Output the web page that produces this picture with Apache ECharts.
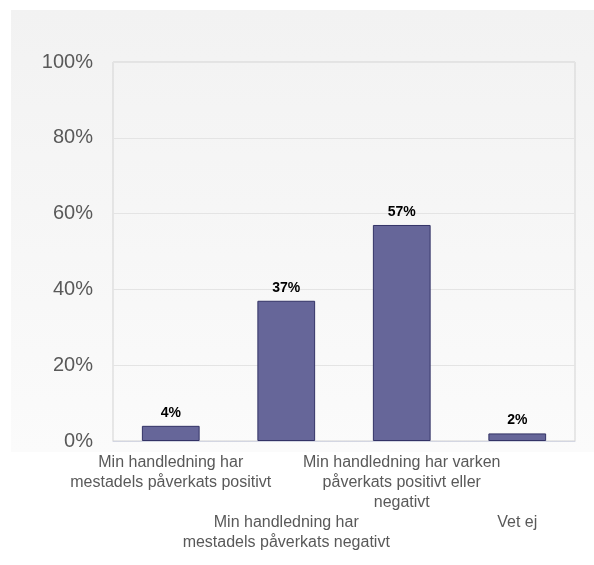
<!DOCTYPE html>
<html>
<head>
<meta charset="utf-8">
<script src="https://cdn.jsdelivr.net/npm/echarts@6/dist/echarts.min.js"></script>
<style>
  html, body { margin: 0; padding: 0; background: #ffffff; }
  #chart { width: 594px; height: 565px; }
</style>
</head>
<body>
<div id="chart"></div>
<script>
const categories = [
  'Min handledning har\nmestadels påverkats positivt',
  'Min handledning har\nmestadels påverkats negativt',
  'Min handledning har varken\npåverkats positivt eller\nnegativt',
  'Vet ej',
];
const values = [4, 37, 57, 2];
const yTicks = [0, 20, 40, 60, 80, 100];

const chart = echarts.init(document.getElementById('chart'));
const font = '"Liberation Sans", Arial, sans-serif';

chart.setOption({
  backgroundColor: '#ffffff',
  animation: false,
  graphic: [
    {
      type: 'rect',
      z: -10,
      shape: { x: 11, y: 10, width: 583, height: 442 },
      style: {
        fill: {
          type: 'linear', x: 0, y: 0, x2: 0, y2: 1,
          colorStops: [
            { offset: 0, color: '#f2f2f2' },
            { offset: 1, color: '#fbfbfb' },
          ],
        },
      },
    },
  ],
  grid: {
    left: 113, right: 19, top: 62, bottom: 124,
    show: true, borderColor: '#d3d3d3', borderWidth: 1,
    backgroundColor: 'transparent',
  },
  xAxis: {
    type: 'category',
    data: categories,
    axisTick: { show: false },
    axisLine: { lineStyle: { color: '#d3d6e2' } },
    axisLabel: {
      interval: 0,
      margin: 12,
      color: '#595959',
      fontSize: 16,
      lineHeight: 20,
      fontFamily: font,
      formatter: (v, i) => (i % 2 === 1 ? '\n\n\n' + v : v),
    },
  },
  yAxis: {
    type: 'value',
    min: yTicks[0],
    max: yTicks[yTicks.length - 1],
    interval: 20,
    axisLine: { show: false },
    axisTick: { show: false },
    splitLine: { lineStyle: { color: '#e4e4e4' } },
    axisLabel: {
      margin: 20,
      color: '#595959',
      fontSize: 20,
      fontFamily: font,
      formatter: '{value}%',
    },
  },
  series: [
    {
      type: 'bar',
      data: values,
      barWidth: '50%',
      itemStyle: { color: '#666699', borderColor: '#333366', borderWidth: 1 },
      label: {
        show: true,
        position: 'top',
        distance: 6,
        color: '#000000',
        fontWeight: 'bold',
        fontSize: 14,
        fontFamily: font,
        formatter: '{c}%',
      },
    },
  ],
});
</script>
</body>
</html>
